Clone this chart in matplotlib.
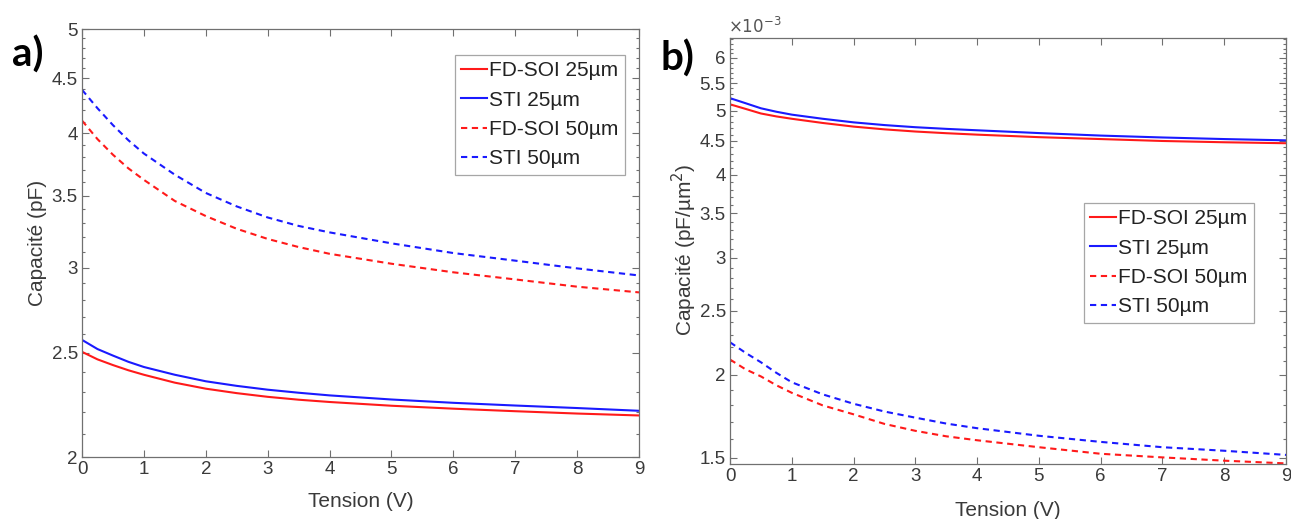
import matplotlib
matplotlib.use('Agg')
import matplotlib.pyplot as plt
import numpy as np
from matplotlib.ticker import FixedLocator, FuncFormatter, NullFormatter

plt.rcParams['font.family'] = ['Liberation Sans', 'DejaVu Sans']

# ---------------- data ----------------
tension = [0, 0.25, 0.5, 0.75, 1, 1.5, 2, 2.5, 3, 3.5, 4, 5, 6, 7, 8, 9]

# panel a : capacitance (pF)
fdsoi25_a = [2.505, 2.465, 2.435, 2.408, 2.385, 2.345, 2.315, 2.293, 2.275, 2.261, 2.25, 2.232, 2.218, 2.206, 2.195, 2.186]
sti25_a = [2.57, 2.52, 2.485, 2.452, 2.425, 2.385, 2.352, 2.329, 2.31, 2.295, 2.282, 2.262, 2.246, 2.233, 2.221, 2.208]
fdsoi50_a = [4.11, 3.95, 3.82, 3.71, 3.62, 3.46, 3.35, 3.26, 3.19, 3.135, 3.09, 3.025, 2.97, 2.925, 2.88, 2.845]
sti50_a = [4.39, 4.22, 4.07, 3.94, 3.83, 3.66, 3.52, 3.42, 3.34, 3.28, 3.235, 3.16, 3.095, 3.045, 2.995, 2.95]

# panel b : capacitance per area (x1e-3 pF/um^2)
fdsoi25_b = [5.11, 5.03, 4.95, 4.90, 4.86, 4.79, 4.73, 4.685, 4.65, 4.623, 4.60, 4.56, 4.53, 4.50, 4.48, 4.465]
sti25_b = [5.22, 5.13, 5.04, 4.98, 4.93, 4.86, 4.80, 4.755, 4.72, 4.693, 4.67, 4.625, 4.585, 4.555, 4.53, 4.51]
fdsoi50_b = [2.11, 2.04, 1.99, 1.93, 1.88, 1.80, 1.745, 1.688, 1.648, 1.617, 1.595, 1.557, 1.522, 1.503, 1.486, 1.472]
sti50_b = [2.24, 2.16, 2.09, 2.015, 1.95, 1.87, 1.81, 1.762, 1.725, 1.69, 1.663, 1.62, 1.586, 1.557, 1.538, 1.516]

labels = ['FD-SOI 25µm', 'STI 25µm', 'FD-SOI 50µm', 'STI 50µm']
yticks_a = [2, 2.5, 3, 3.5, 4, 4.5, 5]
yticks_b = [1.5, 2, 2.5, 3, 3.5, 4, 4.5, 5, 5.5, 6]
xticks = [0, 1, 2, 3, 4, 5, 6, 7, 8, 9]

# ---------------- figure ----------------
W, H = 1291, 519
fig = plt.figure(figsize=(W / 100, H / 100), dpi=100)

def ax_rect(l, t, r, b):
    return [l / W, 1 - b / H, (r - l) / W, (b - t) / H]

ax_a = fig.add_axes(ax_rect(82, 29, 639, 457))
ax_b = fig.add_axes(ax_rect(730, 38, 1286, 464))

axcol = '#707070'
txtcol = '#3a3a3a'
red = '#ff1a1a'
blue = '#1a1aff'
dash = (0, (3.0, 2.2))

def style(ax, data_sets, yt, ylim, scale=1.0, minor_step=0.1):
    x = np.array(tension)
    styles = [(red, '-'), (blue, '-'), (red, dash), (blue, dash)]
    for (c, ls), d, lab in zip(styles, data_sets, labels):
        ax.plot(x, np.array(d) * scale, color=c, linestyle=ls, lw=1.5, label=lab)
    ax.set_yscale('log')
    ax.set_xlim(0, 9)
    ax.set_ylim(ylim[0] * scale, ylim[1] * scale)
    ax.yaxis.set_major_locator(FixedLocator([v * scale for v in yt]))
    ax.yaxis.set_major_formatter(FuncFormatter(lambda v, p: ('%g' % round(v / scale, 3))))
    mins = np.arange(np.floor(ylim[0] * 10) / 10, ylim[1] + 1e-9, minor_step)
    ax.yaxis.set_minor_locator(FixedLocator([m * scale for m in mins]))
    ax.yaxis.set_minor_formatter(NullFormatter())
    ax.xaxis.set_major_locator(FixedLocator(xticks))
    ax.tick_params(which='both', direction='in', top=True, right=True, colors=axcol,
                   labelcolor=txtcol, labelsize=13.5, width=0.8)
    ax.tick_params(which='major', length=5, pad=3)
    ax.tick_params(which='minor', length=2.5)
    for s in ax.spines.values():
        s.set_color(axcol)
        s.set_linewidth(0.9)

style(ax_a, [fdsoi25_a, sti25_a, fdsoi50_a, sti50_a], yticks_a, (2.0, 5.0))
style(ax_b, [fdsoi25_b, sti25_b, fdsoi50_b, sti50_b], yticks_b, (1.469, 6.43), scale=1e-3)

ax_a.set_xlabel('Tension (V)', fontsize=15, color=txtcol)
ax_a.xaxis.set_label_coords(0.5, -0.105)
ax_a.xaxis.label.set_va('center')
ax_a.set_ylabel('Capacité (pF)', fontsize=15, color=txtcol, va='center')
ax_a.yaxis.set_label_coords(-0.079, 0.5)

ax_b.set_xlabel('Tension (V)', fontsize=15, color=txtcol)
ax_b.xaxis.set_label_coords(0.5, -0.11)
ax_b.xaxis.label.set_va('center')
ax_b.set_ylabel('Capacité (pF/µm$^{2}$)', fontsize=15, color=txtcol, va='center')
ax_b.yaxis.set_label_coords(-0.082, 0.502)

fig.text(755 / W, 1 - 26 / H, r'$\times10^{-3}$', fontsize=12, color='#555555',
         ha='center', va='center')

leg_kw = dict(loc='upper left', frameon=True, fancybox=False, fontsize=15,
              handlelength=1.25, handletextpad=0.1, labelspacing=0.5,
              borderpad=0.3, borderaxespad=0, bbox_transform=fig.transFigure)
la = ax_a.legend(bbox_to_anchor=(455 / W, 1 - 55 / H), **leg_kw)
lb = ax_b.legend(bbox_to_anchor=(1084 / W, 1 - 203 / H), **leg_kw)
for lg in (la, lb):
    lg.get_frame().set_edgecolor('#909090')
    lg.get_frame().set_linewidth(0.9)
    for t in lg.get_texts():
        t.set_color('#222222')

fig.text(28 / W, 1 - 55 / H, 'a)', fontsize=29, fontweight='bold',
         family=['Lato', 'DejaVu Sans'], ha='center', va='center')
fig.text(677 / W, 1 - 59 / H, 'b)', fontsize=29, fontweight='bold',
         family=['Lato', 'DejaVu Sans'], ha='center', va='center')

fig.savefig('out.png', dpi=100)
